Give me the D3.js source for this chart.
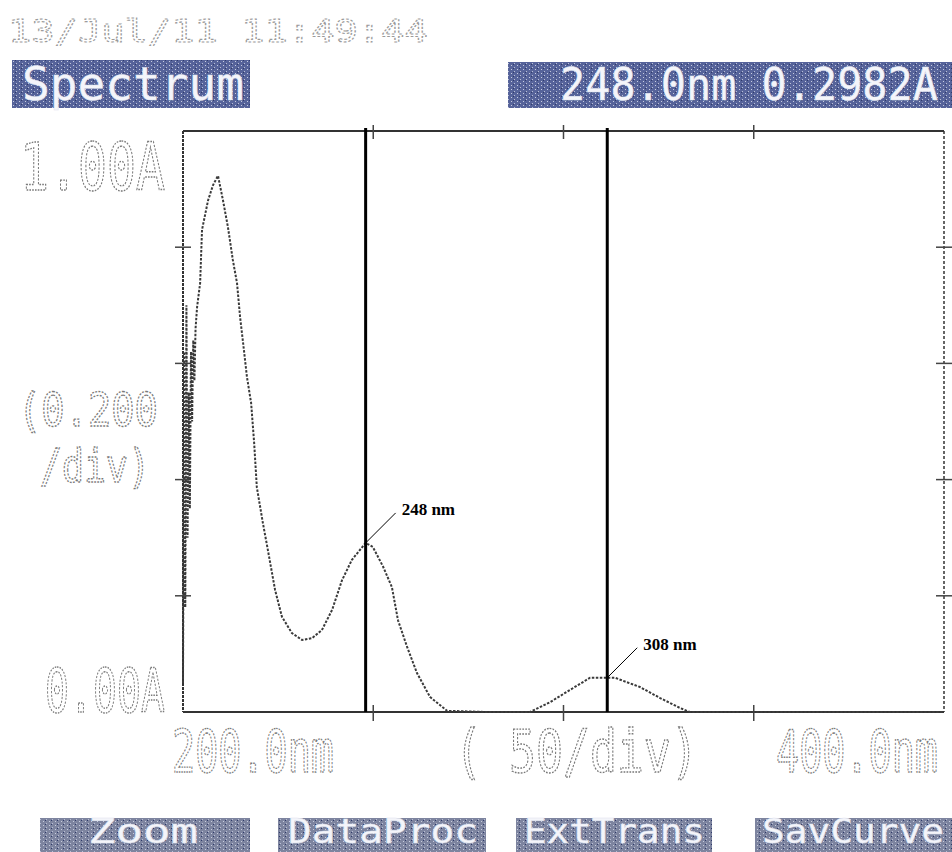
<!DOCTYPE html>
<html>
<head>
<meta charset="utf-8">
<script src="https://cdn.jsdelivr.net/npm/d3@7"></script>
<style>
  body { margin: 0; background: #fff; }
  svg { display: block; }
</style>
</head>
<body>
<svg id="chart"></svg>
<script>
// spectrum (nm, absorbance)
const wavelengths = [200.0, 200.3, 200.6, 200.9, 201.2, 201.5, 201.8, 202.1, 202.4, 202.7, 203.0, 203.3, 203.7,
  204.5, 205.0, 206.6, 207.9, 209.2, 210.5, 211.8, 213.1, 214.2, 215.0, 215.8, 216.8, 217.9, 218.7, 219.4,
  221.0, 222.3, 224.2, 226.0, 228.6, 231.3, 233.9, 236.5, 239.2, 241.8, 244.4, 248.0, 249.9, 252.6, 254.9,
  256.5, 258.9, 261.5, 264.9, 269.4, 280.0, 291.2, 296.5, 301.7, 307.0, 311.5, 313.5, 320.1, 325.4, 330.6,
  333.2, 360.0, 400.0];
const absorbance = [0.05, 0.62, 0.18, 0.70, 0.30, 0.55, 0.35, 0.62, 0.50, 0.64, 0.57, 0.66, 0.697,
  0.738, 0.830, 0.881, 0.907, 0.923, 0.881, 0.835, 0.778, 0.738, 0.680, 0.635, 0.577, 0.532, 0.463, 0.387,
  0.325, 0.279, 0.210, 0.164, 0.136, 0.124, 0.127, 0.141, 0.176, 0.227, 0.262, 0.291, 0.284, 0.250, 0.215,
  0.158, 0.112, 0.067, 0.026, 0.002, 0.0, 0.0, 0.017, 0.038, 0.059, 0.059, 0.059, 0.043, 0.024, 0.007,
  0.0, 0.0, 0.0];

const xTicks = [250, 300, 350];
const yTicks = [0.2, 0.4, 0.6, 0.8];
const markerNm = [248, 311.5];
const markerLabels = ['248 nm', '308 nm'];

const width = 952, height = 852;
const svg = d3.select('#chart').attr('width', width).attr('height', height);

const x = d3.scaleLinear().domain([200, 400]).range([183, 944]);
const y = d3.scaleLinear().domain([0, 1]).range([712, 131]);

// printer-like texture for the menu boxes
const defs = svg.append('defs');
function texture(id, base) {
  const p = defs.append('pattern').attr('id', id).attr('width', 6).attr('height', 4)
    .attr('patternUnits', 'userSpaceOnUse');
  p.append('rect').attr('width', 6).attr('height', 4).attr('fill', base);
  p.append('rect').attr('x', 1).attr('y', 1).attr('width', 1).attr('height', 1).attr('fill', '#c8cde0');
  p.append('rect').attr('x', 4).attr('y', 3).attr('width', 1).attr('height', 1).attr('fill', '#b8bed6');
  p.append('rect').attr('x', 3).attr('y', 0).attr('width', 1).attr('height', 1).attr('fill', '#2e3a6a');
}
texture('texBlue', '#56639a');
texture('texGrey', '#7d849f');

// squeeze a text horizontally so it spans x0..x1 (narrow dot-matrix look)
function fitText(sel, x0, x1, base) {
  const len = sel.node().getComputedTextLength();
  sel.attr('transform', `translate(${x0},${base}) scale(${(x1 - x0) / len},1)`);
  return sel;
}

function dotText(str, x0, x1, base, size, color, sw) {
  const t = svg.append('text')
    .attr('font-family', 'DejaVu Sans Mono').attr('font-size', size)
    .attr('fill', 'none').attr('stroke', color).attr('stroke-width', sw || 1.4)
    .attr('stroke-dasharray', '2.2,1.6')
    .text(str);
  return fitText(t, x0, x1, base);
}

function box(x0, x1, y0, y1, fill, label, tx0, tx1, base, size) {
  svg.append('rect').attr('x', x0).attr('y', y0).attr('width', x1 - x0).attr('height', y1 - y0)
    .attr('fill', `url(#${fill})`);
  const t = svg.append('text')
    .attr('font-family', 'DejaVu Sans Mono').attr('font-size', size)
    .attr('fill', '#f4f5fa').attr('stroke', '#dfe3f0').attr('stroke-width', 0.5)
    .text(label);
  fitText(t, tx0, tx1, base);
}

// header
dotText('13/Jul/11 11:49:44', 8, 428, 42, 32, '#9a9a9a', 1.1);
box(12, 250, 60, 108, 'texBlue', 'Spectrum', 22, 244, 100, 46);
box(508, 952, 62, 108, 'texBlue', '248.0nm  0.2982A', 560, 938, 100, 44);

// frame
const frame = svg.append('g').attr('stroke', '#333').attr('stroke-width', 2).attr('fill', 'none');
frame.append('line').attr('x1', x(200)).attr('x2', x(400)).attr('y1', y(1)).attr('y2', y(1));
frame.append('line').attr('x1', x(200)).attr('x2', x(400)).attr('y1', y(0)).attr('y2', y(0));
frame.append('line').attr('x1', x(200)).attr('x2', x(200)).attr('y1', y(1)).attr('y2', y(0))
  .attr('stroke-dasharray', '3,1');
frame.append('line').attr('x1', x(400)).attr('x2', x(400)).attr('y1', y(1)).attr('y2', y(0))
  .attr('stroke-dasharray', '3,2').attr('stroke-width', 1.5);

// cross ticks
const ticks = svg.append('g').attr('stroke', '#444').attr('stroke-width', 1.5);
xTicks.forEach(v => {
  ticks.append('line').attr('x1', x(v)).attr('x2', x(v)).attr('y1', y(0) - 7).attr('y2', y(0) + 9);
  ticks.append('line').attr('x1', x(v)).attr('x2', x(v)).attr('y1', y(1) - 6).attr('y2', y(1) + 8);
});
yTicks.forEach(v => {
  ticks.append('line').attr('x1', x(200) - 8).attr('x2', x(200) + 8).attr('y1', y(v)).attr('y2', y(v));
  ticks.append('line').attr('x1', x(400) - 8).attr('x2', x(400) + 8).attr('y1', y(v)).attr('y2', y(v));
});

// axis labels
dotText('1.00A', 20, 165, 190, 66, '#7a7a7a');
dotText('(0.200', 18, 158, 426, 46, '#7a7a7a');
dotText('/div)', 40, 150, 482, 46, '#7a7a7a');
dotText('0.00A', 45, 165, 712, 60, '#7a7a7a');
dotText('200.0nm', 172, 334, 772, 58, '#7a7a7a');
dotText('( 50/div)', 455, 698, 772, 58, '#7a7a7a');
dotText('400.0nm', 776, 938, 772, 58, '#7a7a7a');

// spectrum curve
const points = wavelengths.map((w, i) => [w, absorbance[i]]);
const line = d3.line().x(d => x(d[0])).y(d => y(d[1])).curve(d3.curveLinear);
svg.append('path').datum(points)
  .attr('d', line)
  .attr('fill', 'none').attr('stroke', '#3a3a3a').attr('stroke-width', 2)
  .attr('stroke-dasharray', '2.5,1.5');

// marker lines and notes
const interp = w => {
  const i = d3.bisectLeft(wavelengths, w);
  if (i <= 0) return absorbance[0];
  const t = (w - wavelengths[i - 1]) / (wavelengths[i] - wavelengths[i - 1]);
  return absorbance[i - 1] + t * (absorbance[i] - absorbance[i - 1]);
};
markerNm.forEach((w, i) => {
  svg.append('line').attr('x1', x(w)).attr('x2', x(w)).attr('y1', y(1) - 3).attr('y2', y(0))
    .attr('stroke', '#000').attr('stroke-width', 3);
  const px = x(w), py = y(interp(w));
  svg.append('line').attr('x1', px).attr('y1', py).attr('x2', px + 30).attr('y2', py - 30)
    .attr('stroke', '#000').attr('stroke-width', 1);
  svg.append('text').attr('x', px + 36).attr('y', py - 28)
    .attr('font-family', 'Liberation Serif').attr('font-weight', 'bold').attr('font-size', 17)
    .attr('fill', '#000').text(markerLabels[i]);
});

// soft keys
box(40, 250, 818, 852, 'texGrey', 'Zoom', 88, 198, 843, 34);
box(278, 486, 818, 852, 'texGrey', 'DataProc', 288, 478, 843, 34);
box(516, 712, 818, 852, 'texGrey', 'ExtTrans', 524, 705, 843, 34);
box(755, 952, 818, 852, 'texGrey', 'SavCurve', 762, 944, 843, 34);
</script>
</body>
</html>
